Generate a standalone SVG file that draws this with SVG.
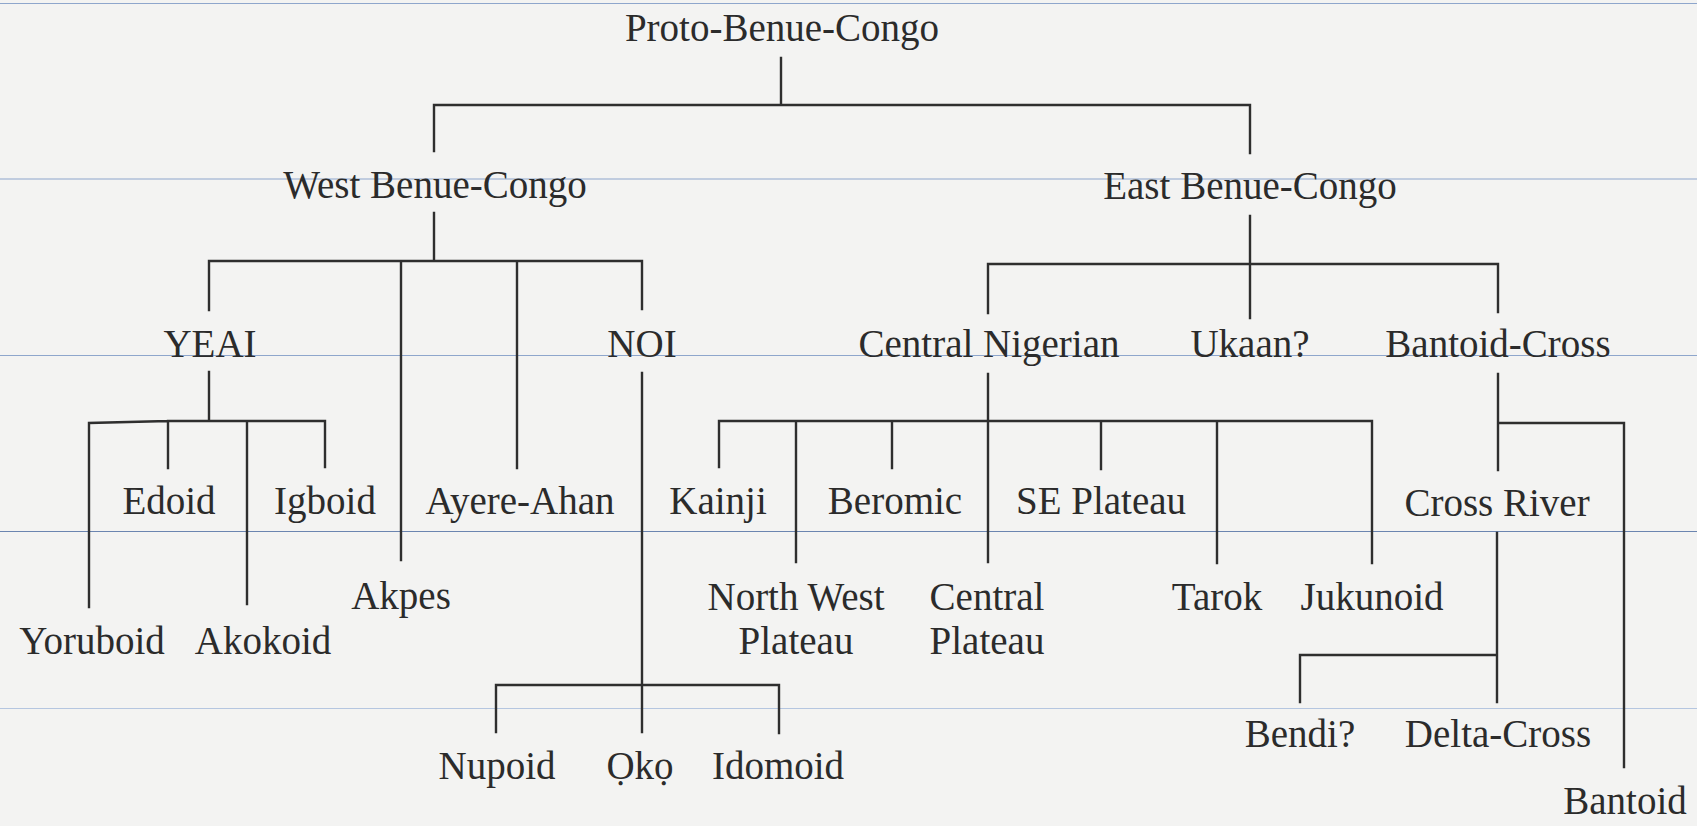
<svg xmlns="http://www.w3.org/2000/svg" width="1697" height="826" viewBox="0 0 1697 826">
<style>
.bg{fill:#f3f3f2}
.rule{stroke:#8ea6cc;stroke-width:1.2;fill:none}
.e{stroke:#2e2e2e;stroke-width:2.4;fill:none;stroke-linecap:square}
text{font-family:"Liberation Serif","Times New Roman",serif;font-size:39px;fill:#2b2b2b;text-anchor:middle}
</style>
<rect class="bg" x="0" y="0" width="1697" height="826"/>
<g id="rules">
<line class="rule" x1="0" y1="3.5" x2="1697" y2="3.5"/>
<line class="rule" x1="0" y1="179" x2="1697" y2="179"/>
<line class="rule" x1="0" y1="355.5" x2="1697" y2="355.5"/>
<line class="rule" x1="0" y1="531.5" x2="1697" y2="531.5" style="stroke:#6b85b0"/>
<line class="rule" x1="0" y1="708.5" x2="1697" y2="708.5" style="stroke:#b5c6e0"/>
</g>
<g id="connectors">
<path class="e" d="M781,58 V105 M434,151 V105 H1250 V153"/>
<path class="e" d="M434,213 V261 M209,310 V261 H642 V309 M401,261 V560 M517,261 V468"/>
<path class="e" d="M209,372 V421 M89,607 V423 L168,421 H325 V467 M168,421 V468 M247,421 V604"/>
<path class="e" d="M642,373 V732 M496,732 V685 H779 V733"/>
<path class="e" d="M1250,216 V318 M988,313 V264 H1498 V312"/>
<path class="e" d="M988,374 V562 M719,467 V421 H1372 V563 M796,421 V562 M892,421 V468 M1101,421 V469 M1217,421 V563"/>
<path class="e" d="M1498,374 V470 M1498,423 H1624 V767"/>
<path class="e" d="M1497,533 V702 M1497,655 H1300 V702"/>
</g>
<g id="n-proto"><text x="782" y="41">Proto-Benue-Congo</text></g>
<g id="n-west"><text x="435" y="198">West Benue-Congo</text></g>
<g id="n-east"><text x="1250" y="199">East Benue-Congo</text></g>
<g id="n-yeai"><text x="210" y="357">YEAI</text></g>
<g id="n-noi"><text x="642" y="357">NOI</text></g>
<g id="n-central-nigerian"><text x="989" y="357">Central Nigerian</text></g>
<g id="n-ukaan"><text x="1250" y="357">Ukaan?</text></g>
<g id="n-bantoid-cross"><text x="1498" y="357">Bantoid-Cross</text></g>
<g id="n-edoid"><text x="169" y="514">Edoid</text></g>
<g id="n-igboid"><text x="325" y="514">Igboid</text></g>
<g id="n-ayere"><text x="520" y="514">Ayere-Ahan</text></g>
<g id="n-kainji"><text x="718" y="514">Kainji</text></g>
<g id="n-beromic"><text x="895" y="514">Beromic</text></g>
<g id="n-se-plateau"><text x="1101" y="514">SE Plateau</text></g>
<g id="n-cross-river"><text x="1497" y="516">Cross River</text></g>
<g id="n-akpes"><text x="401" y="609">Akpes</text></g>
<g id="n-nw-plateau"><text x="796" y="610">North West</text><text x="796" y="654">Plateau</text></g>
<g id="n-central-plateau"><text x="987" y="610">Central</text><text x="987" y="654">Plateau</text></g>
<g id="n-tarok"><text x="1217" y="610">Tarok</text></g>
<g id="n-jukunoid"><text x="1372" y="610">Jukunoid</text></g>
<g id="n-yoruboid"><text x="92" y="654">Yoruboid</text></g>
<g id="n-akokoid"><text x="263" y="654">Akokoid</text></g>
<g id="n-nupoid"><text x="497" y="779">Nupoid</text></g>
<g id="n-oko"><text x="640" y="779">Ọkọ</text></g>
<g id="n-idomoid"><text x="778" y="779">Idomoid</text></g>
<g id="n-bendi"><text x="1300" y="747">Bendi?</text></g>
<g id="n-delta-cross"><text x="1498" y="747">Delta-Cross</text></g>
<g id="n-bantoid"><text x="1625" y="814">Bantoid</text></g>
</svg>
